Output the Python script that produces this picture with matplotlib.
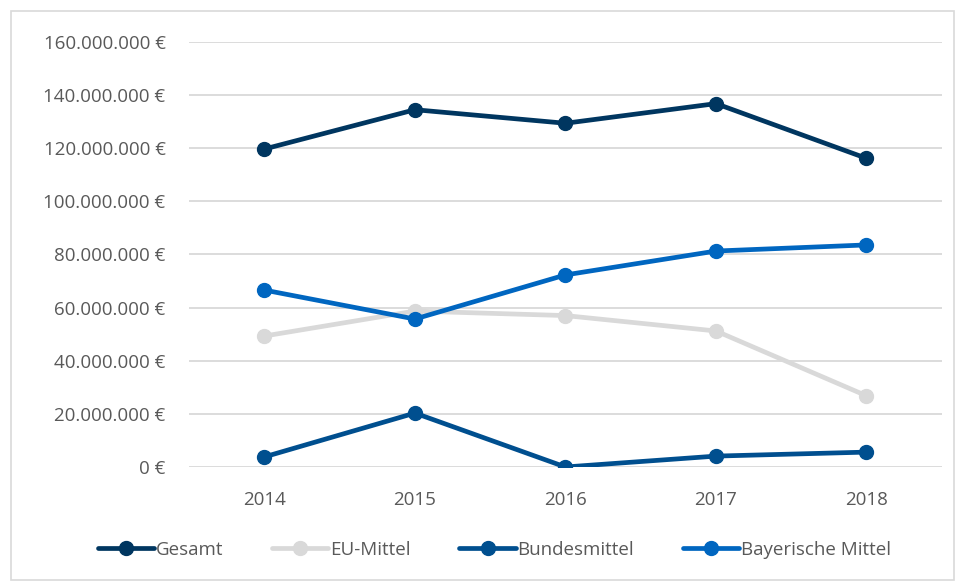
import matplotlib.pyplot as plt
from matplotlib.patches import Rectangle
from matplotlib.ticker import FuncFormatter

years = ['2014', '2015', '2016', '2017', '2018']
gesamt = [119.7, 134.5, 129.4, 136.8, 116.2]          # Mio. €
eu_mittel = [49.3, 58.7, 57.0, 51.2, 26.8]
bundesmittel = [3.8, 20.3, 0.0, 4.1, 5.6]
bayerische_mittel = [66.6, 55.7, 72.3, 81.3, 83.6]

series = [
    ('Gesamt', gesamt, '#003660'),
    ('EU-Mittel', eu_mittel, '#D9D9D9'),
    ('Bundesmittel', bundesmittel, '#004F8F'),
    ('Bayerische Mittel', bayerische_mittel, '#0066C0'),
]

plt.rcParams['font.family'] = ['Open Sans', 'DejaVu Sans']
fs = 13.5
text_col = '#595959'

fig = plt.figure(figsize=(9.6, 5.83), dpi=100)
ax = fig.add_axes([0.197, 0.199, 0.784, 0.729])

x = list(range(len(years)))
for name, vals, col in series:
    ax.plot(x, [v * 1e6 for v in vals], color=col, lw=3.4, marker='o',
            markersize=10, label=name, solid_capstyle='round')

ax.set_xlim(-0.5, len(years) - 0.5)
ax.set_ylim(0, 160e6)
ax.set_yticks([i * 20e6 for i in range(9)])
ax.yaxis.set_major_formatter(FuncFormatter(
    lambda v, p: '{:,.0f} €'.format(v).replace(',', '.')))
ax.set_xticks(x)
ax.set_xticklabels(years)

ax.grid(axis='y', color='#D9D9D9', lw=1.3)
ax.set_axisbelow(True)
for s in ax.spines.values():
    s.set_visible(False)
ax.tick_params(length=0, colors=text_col, labelsize=fs)
ax.tick_params(axis='x', pad=17)
ax.tick_params(axis='y', pad=17)

fig.legend(loc='center', bbox_to_anchor=(0.515, 0.057), ncol=4, frameon=False,
           fontsize=fs, labelcolor=text_col, handlelength=3.0,
           handletextpad=0.1, columnspacing=2.6)

fig.patches.append(Rectangle((0.011, 0.006), 0.983, 0.975, transform=fig.transFigure,
                             fill=False, edgecolor='#D9D9D9', lw=1.2))

fig.savefig('out.png', dpi=100)
